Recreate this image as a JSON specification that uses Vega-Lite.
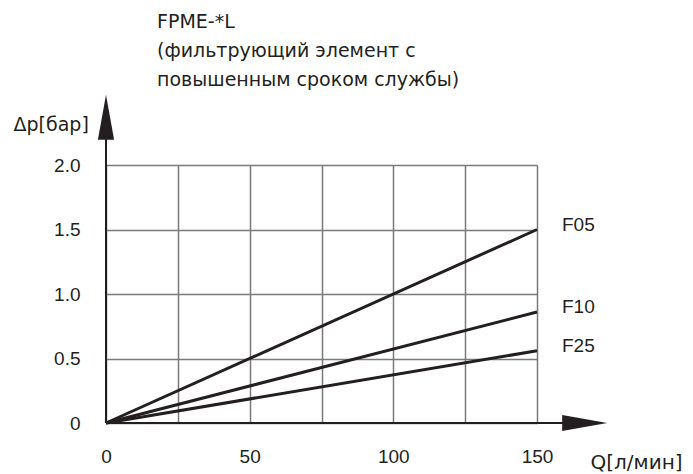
{
  "$schema": "https://vega.github.io/schema/vega-lite/v6.json",
  "width": 431,
  "height": 258,
  "autosize": {"type": "none"},
  "padding": {"left": 106, "top": 165, "right": 156, "bottom": 51},
  "background": "white",
  "config": {
    "view": {"stroke": null},
    "font": "Liberation Sans",
    "text": {"font": "Liberation Sans"}
  },
  "title": {
    "text": ["FPME-*L", "(фильтрующий элемент с", "повышенным сроком службы)"],
    "anchor": "start",
    "frame": "group",
    "orient": "top",
    "dx": 51,
    "offset": -10,
    "baseline": "alphabetic",
    "fontSize": 19,
    "lineHeight": 29,
    "font": "DejaVu Sans",
    "fontWeight": "normal",
    "color": "#231f20"
  },
  "datasets": {
    "curves": [
      {"series": "F05", "q": 0, "dp": 0},
      {"series": "F05", "q": 150, "dp": 1.5},
      {"series": "F10", "q": 0, "dp": 0},
      {"series": "F10", "q": 150, "dp": 0.86},
      {"series": "F25", "q": 0, "dp": 0},
      {"series": "F25", "q": 150, "dp": 0.56}
    ],
    "axislines": [
      {"q": 0, "dp": 0, "q2": 166, "dp2": 0},
      {"q": 0, "dp": 0, "q2": 0, "dp2": 2.37}
    ],
    "arrowx": [{"q": 166.6, "dp": 0}],
    "arrowy": [{"q": 0, "dp": 2.37}]
  },
  "encoding": {
    "x": {
      "field": "q",
      "type": "quantitative",
      "scale": {"domain": [0, 150], "nice": false, "zero": false},
      "axis": {
        "values": [0, 25, 50, 75, 100, 125, 150],
        "grid": true,
        "gridColor": "#7a7a7a",
        "gridWidth": 1.5,
        "ticks": false,
        "domain": false,
        "labelFlush": false,
        "labelExpr": "datum.value % 50 === 0 ? datum.label : ''",
        "labelPadding": 24,
        "labelFontSize": 19,
        "labelFont": "Liberation Sans",
        "labelColor": "#231f20",
        "labelBaseline": "top",
        "labelAlign": "center",
        "title": "Q[л/мин]",
        "titleX": 484,
        "titleY": 45,
        "titleAlign": "left",
        "titleBaseline": "alphabetic",
        "titleFontSize": 20,
        "titleFont": "DejaVu Sans",
        "titleFontWeight": "normal",
        "titleColor": "#231f20",
        "encode": {
          "labels": {"update": {"dx": {"signal": "datum.value === 0 ? -4 : (datum.value === 100 ? 4 : 0)"}}}
        }
      }
    },
    "y": {
      "field": "dp",
      "type": "quantitative",
      "scale": {"domain": [0, 2], "nice": false, "zero": false},
      "axis": {
        "values": [0, 0.5, 1, 1.5, 2],
        "grid": true,
        "gridColor": "#7a7a7a",
        "gridWidth": 1.5,
        "ticks": false,
        "domain": false,
        "labelFlush": false,
        "labelExpr": "datum.value === 0 ? '0' : format(datum.value, '.1f')",
        "labelPadding": 26,
        "labelFontSize": 19,
        "labelFont": "Liberation Sans",
        "labelColor": "#231f20",
        "labelBaseline": "middle",
        "title": "Δp[бар]",
        "titleAngle": 0,
        "titleX": -93,
        "titleY": -35,
        "titleAlign": "left",
        "titleBaseline": "alphabetic",
        "titleFontSize": 19,
        "titleFont": "DejaVu Sans",
        "titleFontWeight": "normal",
        "titleColor": "#231f20",
        "encode": {
          "labels": {"update": {"dx": {"signal": "datum.value === 0 ? -16 : 0"}, "dy": {"signal": "datum.value === 2 ? 6 : 0"}}}
        }
      }
    }
  },
  "layer": [
    {
      "data": {"name": "axislines"},
      "mark": {"type": "rule", "color": "#231f20", "strokeWidth": 2, "clip": false},
      "encoding": {
        "x2": {"field": "q2"},
        "y2": {"field": "dp2"}
      }
    },
    {
      "data": {"name": "arrowx"},
      "mark": {"type": "point", "shape": "M-1,-0.36 L1,0 L-1,0.36 Z", "size": 2025, "filled": true, "color": "#231f20", "opacity": 1, "clip": false},
      "encoding": {}
    },
    {
      "data": {"name": "arrowy"},
      "mark": {"type": "point", "shape": "M-0.36,1 L0,-1 L0.36,1 Z", "size": 2025, "filled": true, "color": "#231f20", "opacity": 1, "clip": false},
      "encoding": {}
    },
    {
      "data": {"name": "curves"},
      "mark": {"type": "line", "color": "#231f20", "strokeWidth": 3, "clip": false},
      "encoding": {"detail": {"field": "series"}}
    },
    {
      "data": {"name": "curves"},
      "transform": [{"filter": "datum.q === 150"}],
      "mark": {"type": "text", "align": "left", "baseline": "middle", "dx": 25, "dy": -5, "fontSize": 19, "font": "Liberation Sans", "color": "#231f20"},
      "encoding": {"text": {"field": "series"}}
    }
  ]
}
